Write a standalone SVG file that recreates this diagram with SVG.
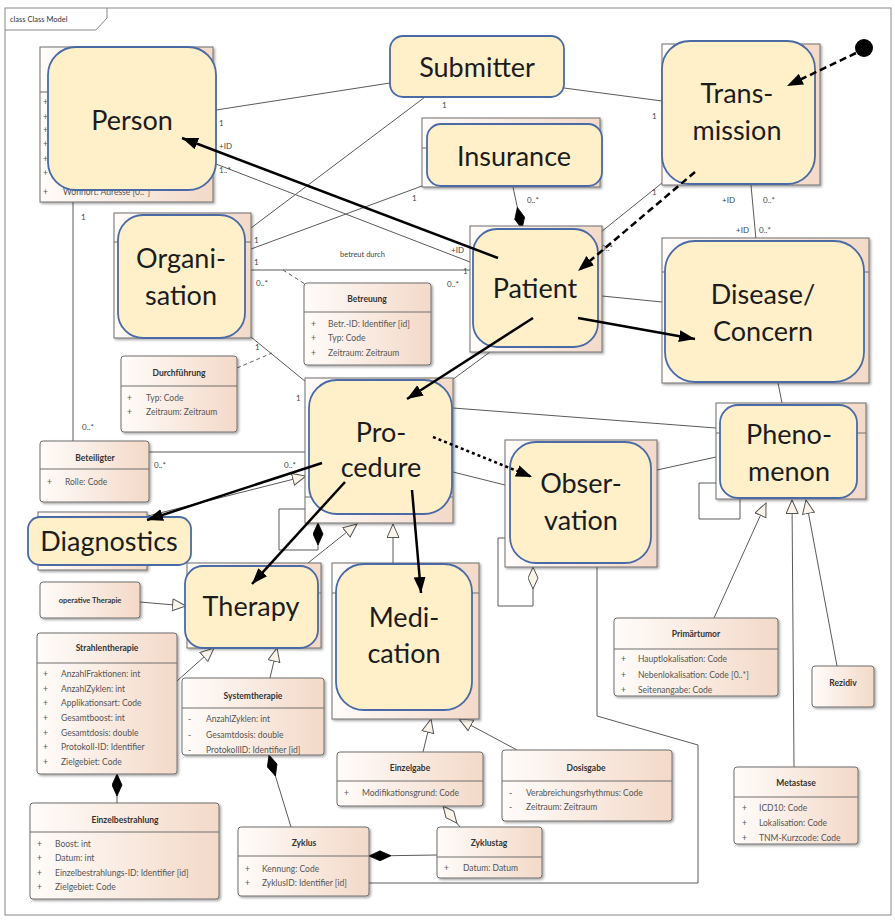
<svg xmlns="http://www.w3.org/2000/svg" width="895" height="921" viewBox="0 0 895 921">
<defs>
<linearGradient id="cg" x1="0" y1="0" x2="1" y2="0"><stop offset="0" stop-color="#FFFCFA"/><stop offset="1" stop-color="#F3D9C8"/></linearGradient>
<filter id="sh" x="-5%" y="-5%" width="115%" height="115%"><feDropShadow dx="1.5" dy="1.5" stdDeviation="1" flood-color="#000" flood-opacity="0.35"/></filter>
<marker id="ah" markerUnits="userSpaceOnUse" markerWidth="17" markerHeight="13" refX="16" refY="6" orient="auto"><path d="M0,0 L16,6 L0,12 z" fill="#000"/></marker>
<marker id="gen" markerUnits="userSpaceOnUse" markerWidth="16" markerHeight="14" refX="14" refY="6.5" orient="auto"><path d="M0.5,0.5 L14,6.5 L0.5,12.5 z" fill="#FBF4EA" stroke="#555" stroke-width="1"/></marker>
<marker id="comp" markerUnits="userSpaceOnUse" markerWidth="24" markerHeight="12" refX="23" refY="5.5" orient="auto"><path d="M1,5.5 L12,0.5 L23,5.5 L12,10.5 z" fill="#000" stroke="#000" stroke-width="0.8"/></marker>
<marker id="agg" markerUnits="userSpaceOnUse" markerWidth="24" markerHeight="12" refX="23" refY="5.5" orient="auto"><path d="M1,5.5 L12,0.5 L23,5.5 L12,10.5 z" fill="#FBF4EA" stroke="#555" stroke-width="1"/></marker>
<style>
.cls{fill:url(#cg);stroke:#6e6e6e;stroke-width:1;filter:url(#sh)}
.rb{fill:#FFF0CA;stroke:#4A6AA5;stroke-width:1.8}
.sep{stroke:#6e6e6e;stroke-width:1}
.big{font-family:Lato,"Open Sans",sans-serif;font-size:27px;fill:#1c1c1c;text-anchor:middle}
.ti{font-family:Lato,"Liberation Sans",sans-serif;font-size:8.5px;font-weight:bold;fill:#333;text-anchor:middle}
.at{font-family:Lato,"Liberation Sans",sans-serif;font-size:8.5px;fill:#555}
.lb{font-family:Lato,"Liberation Sans",sans-serif;font-size:8px;fill:#444}
.ln{stroke:#5a5a5a;stroke-width:1;fill:none}
.dl{stroke:#5a5a5a;stroke-width:1;fill:none;stroke-dasharray:4,3}
.ar{stroke:#000;stroke-width:2.5;fill:none;marker-end:url(#ah)}
.g{marker-end:url(#gen)}
.c{marker-end:url(#comp)}
.ag{marker-end:url(#agg)}
</style>
</defs>
<rect width="895" height="921" fill="#fff"/>
<g id="frame">
<rect x="5" y="8" width="886" height="907" fill="none" stroke="#888" stroke-width="1"/>
<path d="M5,30 H96 L107,18 V8" fill="none" stroke="#888"/>
<text x="10" y="22" class="lb" style="font-size:7.5px;fill:#333">class Class Model</text>
</g>

<g id="connectors">
<path class="ln" d="M216,110 L390,83"/>
<path class="ln" d="M564,88 L662,101"/>
<path class="ln" d="M425,97 L251,228"/>
<path class="ln" d="M422,186 L251,249"/>
<path class="ln" d="M251,270 L470,270"/>
<path class="dl" d="M283,270 L305,284"/>
<path class="ln" d="M251,337 L306,382"/>
<path class="dl" d="M237,368 L272,353"/>
<path class="ln" d="M73,202 V441"/>
<path class="ln" d="M149,452 H306"/>
<path class="ln g" d="M148,516 L306,476"/>
<path class="ln" d="M216,164 L470,262"/>
<path class="ln c" d="M513,187 L522,229"/>
<path class="ln" d="M662,183 L601,232"/>
<path class="ln" d="M751,185 L756,240"/>
<path class="ln" d="M602,296 L662,302"/>
<path class="ln" d="M490,352 L452,380"/>
<path class="ln" d="M453,408 L716,428"/>
<path class="ln" d="M453,472 L505,485"/>
<path class="ln" d="M657,470 L716,457"/>
<path class="ln" d="M778,383 L782,403"/>
<path class="ln" d="M716,483 H699 V519 H740 V499"/>
<path class="ln c" d="M305,509 H279 V550 H318 V523"/>
<path class="ln ag" d="M505,538 H498 V606 H533 V567"/>
<path class="ln" d="M597,567 V716 L698,745 V883 H369"/>
<path class="ln g" d="M308,563 L357,524"/>
<path class="ln g" d="M393,563 V524"/>
<path class="ln g" d="M140,602 L186,606"/>
<path class="ln g" d="M177,681 L214,648"/>
<path class="ln g" d="M270,678 L277,648"/>
<path class="ln g" d="M423,752 L431,719"/>
<path class="ln g" d="M517,750 L459,719"/>
<path class="ln c" d="M117,803 V774"/>
<path class="ln c" d="M291,827 L269,755"/>
<path class="ln c" d="M437,855 L369,856"/>
<path class="ln ag" d="M460,827 L443,806"/>
<path class="ln g" d="M714,618 L766,503"/>
<path class="ln g" d="M794,767 L792,500"/>
<path class="ln g" d="M837,666 L806,500"/>
<text class="lb" x="219" y="126">1</text>
<text class="lb" x="219" y="149">+ID</text>
<text class="lb" x="219" y="173">1..*</text>
<text class="lb" x="442" y="108">1</text>
<text class="lb" x="412" y="201">1</text>
<text class="lb" x="254" y="243">1</text>
<text class="lb" x="254" y="265">1</text>
<text class="lb" x="256" y="286">0..*</text>
<text class="lb" x="340" y="257" style="font-size:7.5px">betreut durch</text>
<text class="lb" x="463" y="274">1</text>
<text class="lb" x="447" y="287">0..*</text>
<text class="lb" x="451" y="253">+ID</text>
<text class="lb" x="527" y="203">0..*</text>
<text class="lb" x="652" y="195">1</text>
<text class="lb" x="652" y="119">1</text>
<text class="lb" x="601" y="251">0..*</text>
<text class="lb" x="722" y="203">+ID</text>
<text class="lb" x="763" y="203">0..*</text>
<text class="lb" x="736" y="233">+ID</text>
<text class="lb" x="759" y="233">0..*</text>
<text class="lb" x="255" y="350">1</text>
<text class="lb" x="296" y="401">1</text>
<text class="lb" x="81" y="220">1</text>
<text class="lb" x="82" y="430">0..*</text>
<text class="lb" x="154" y="468">0..*</text>
<text class="lb" x="284" y="468">0..*</text>
</g>

<g id="person">
<rect class="cls" x="40" y="47" width="173" height="155"/>
<line class="sep" x1="40" y1="92" x2="213" y2="92"/>
<g class="at"><text x="43" y="105">+</text><text x="43" y="120">+</text><text x="43" y="133">+</text><text x="43" y="147">+</text><text x="43" y="162">+</text><text x="43" y="176">+</text><text x="43" y="195">+</text><text x="63" y="195">Wohnort: Adresse [0..*]</text></g>
<rect class="rb" x="48" y="47" width="168" height="143" rx="28"/>
<text class="big" x="132" y="130">Person</text>
</g>

<g id="submitter">
<rect class="rb" x="390" y="36" width="174" height="61" rx="13"/>
<text class="big" x="477" y="77">Submitter</text>
</g>

<g id="insurance">
<rect class="cls" x="422" y="118" width="178" height="69"/>
<line class="sep" x1="422" y1="148" x2="600" y2="148"/>
<rect class="rb" x="427" y="124" width="175" height="62" rx="14"/>
<text class="big" x="514" y="166">Insurance</text>
</g>

<g id="transmission">
<rect class="cls" x="662" y="44" width="158" height="141"/>
<rect class="rb" x="662" y="41" width="153" height="143" rx="28"/>
<text class="big" x="737" y="103">Trans-</text>
<text class="big" x="737" y="140">mission</text>
</g>

<g id="organisation">
<rect class="cls" x="114" y="213" width="137" height="125"/>
<line class="sep" x1="114" y1="242" x2="251" y2="242"/>
<rect class="rb" x="118" y="215" width="127" height="123" rx="25"/>
<text class="big" x="181" y="268">Organi-</text>
<text class="big" x="181" y="305">sation</text>
</g>

<g id="patient">
<rect class="cls" x="470" y="226" width="132" height="126"/>
<rect class="rb" x="473" y="229" width="125" height="118" rx="24"/>
<text class="big" x="535" y="298">Patient</text>
</g>

<g id="disease">
<rect class="cls" x="662" y="238" width="207" height="145"/>
<line class="sep" x1="662" y1="272" x2="869" y2="272"/>
<rect class="rb" x="665" y="241" width="199" height="141" rx="30"/>
<text class="big" x="763" y="304">Disease/</text>
<text class="big" x="763" y="341">Concern</text>
</g>

<g id="phenomenon">
<rect class="cls" x="716" y="403" width="150" height="96"/>
<line class="sep" x1="716" y1="433" x2="866" y2="433"/>
<rect class="rb" x="720" y="405" width="137" height="93" rx="18"/>
<text class="big" x="789" y="444">Pheno-</text>
<text class="big" x="789" y="481">menon</text>
</g>

<g id="procedure">
<rect class="cls" x="305" y="378" width="148" height="145"/>
<line class="sep" x1="305" y1="497" x2="453" y2="497"/>
<rect class="rb" x="309" y="380" width="143" height="134" rx="28"/>
<text class="big" x="381" y="442">Pro-</text>
<text class="big" x="381" y="477">cedure</text>
</g>

<g id="observation">
<rect class="cls" x="505" y="440" width="152" height="127"/>
<rect class="rb" x="510" y="442" width="141" height="121" rx="26"/>
<text class="big" x="581" y="493">Obser-</text>
<text class="big" x="581" y="530">vation</text>
</g>

<g id="diagnostics">
<rect class="cls" x="38" y="512" width="109" height="58"/>
<rect class="rb" x="28" y="517" width="163" height="48" rx="12"/>
<text class="big" x="109" y="551">Diagnostics</text>
</g>

<g id="therapy">
<rect class="cls" x="187" y="563" width="134" height="85"/>
<line class="sep" x1="187" y1="593" x2="321" y2="593"/>
<rect class="rb" x="185" y="566" width="133" height="82" rx="18"/>
<text class="big" x="251" y="616">Therapy</text>
</g>

<g id="medication">
<rect class="cls" x="332" y="563" width="147" height="156"/>
<line class="sep" x1="332" y1="593" x2="479" y2="593"/>
<rect class="rb" x="336" y="564" width="136" height="146" rx="28"/>
<text class="big" x="404" y="627">Medi-</text>
<text class="big" x="404" y="663">cation</text>
</g>

<g id="betreuung">
<rect class="cls" x="304" y="283" width="127" height="82" rx="3"/>
<line class="sep" x1="304" y1="312" x2="431" y2="312"/>
<text class="ti" x="367" y="302">Betreuung</text>
<g class="at"><text x="311" y="327">+</text><text x="328" y="327">Betr.-ID: Identifier [id]</text><text x="311" y="341">+</text><text x="328" y="341">Typ: Code</text><text x="311" y="356">+</text><text x="328" y="356">Zeitraum: Zeitraum</text></g>
</g>

<g id="durchfuehrung">
<rect class="cls" x="121" y="356" width="116" height="76" rx="3"/>
<line class="sep" x1="121" y1="386" x2="237" y2="386"/>
<text class="ti" x="179" y="376">Durchführung</text>
<g class="at"><text x="127" y="401">+</text><text x="146" y="401">Typ: Code</text><text x="127" y="415">+</text><text x="146" y="415">Zeitraum: Zeitraum</text></g>
</g>

<g id="beteiligter">
<rect class="cls" x="40" y="441" width="109" height="61" rx="3"/>
<line class="sep" x1="40" y1="469" x2="149" y2="469"/>
<text class="ti" x="95" y="461">Beteiligter</text>
<g class="at"><text x="47" y="485">+</text><text x="65" y="485">Rolle: Code</text></g>
</g>

<g id="operative-therapie">
<rect class="cls" x="40" y="582" width="100" height="36" rx="3"/>
<text class="ti" x="90" y="603" style="font-size:7.5px">operative Therapie</text>
</g>

<g id="strahlentherapie">
<rect class="cls" x="37" y="633" width="140" height="141" rx="3"/>
<line class="sep" x1="37" y1="663" x2="177" y2="663"/>
<text class="ti" x="107" y="651">Strahlentherapie</text>
<g class="at">
<text x="43" y="677">+</text><text x="61" y="677">AnzahlFraktionen: int</text>
<text x="43" y="692">+</text><text x="61" y="692">AnzahlZyklen: int</text>
<text x="43" y="706">+</text><text x="61" y="706">Applikationsart: Code</text>
<text x="43" y="721">+</text><text x="61" y="721">Gesamtboost: int</text>
<text x="43" y="736">+</text><text x="61" y="736">Gesamtdosis: double</text>
<text x="43" y="750">+</text><text x="61" y="750">Protokoll-ID: Identifier</text>
<text x="43" y="765">+</text><text x="61" y="765">Zielgebiet: Code</text>
</g>
</g>

<g id="systemtherapie">
<rect class="cls" x="182" y="678" width="142" height="77" rx="3"/>
<line class="sep" x1="182" y1="708" x2="324" y2="708"/>
<text class="ti" x="253" y="699">Systemtherapie</text>
<g class="at">
<text x="188" y="722">-</text><text x="206" y="722">AnzahlZyklen: int</text>
<text x="188" y="738">-</text><text x="206" y="738">Gesamtdosis: double</text>
<text x="188" y="753">-</text><text x="206" y="753">ProtokollID: Identifier [id]</text>
</g>
</g>

<g id="einzelbestrahlung">
<rect class="cls" x="30" y="803" width="189" height="96" rx="3"/>
<line class="sep" x1="30" y1="832" x2="219" y2="832"/>
<text class="ti" x="125" y="823">Einzelbestrahlung</text>
<g class="at">
<text x="37" y="847">+</text><text x="55" y="847">Boost: int</text>
<text x="37" y="861">+</text><text x="55" y="861">Datum: int</text>
<text x="37" y="876">+</text><text x="55" y="876">Einzelbestrahlungs-ID: Identifier [id]</text>
<text x="37" y="890">+</text><text x="55" y="890">Zielgebiet: Code</text>
</g>
</g>

<g id="zyklus">
<rect class="cls" x="238" y="827" width="131" height="69" rx="3"/>
<line class="sep" x1="238" y1="856" x2="369" y2="856"/>
<text class="ti" x="304" y="846">Zyklus</text>
<g class="at">
<text x="245" y="872">+</text><text x="262" y="872">Kennung: Code</text>
<text x="245" y="886">+</text><text x="262" y="886">ZyklusID: Identifier [id]</text>
</g>
</g>

<g id="zyklustag">
<rect class="cls" x="437" y="827" width="105" height="51" rx="3"/>
<line class="sep" x1="437" y1="857" x2="542" y2="857"/>
<text class="ti" x="489" y="846">Zyklustag</text>
<g class="at"><text x="444" y="871">+</text><text x="463" y="871">Datum: Datum</text></g>
</g>

<g id="einzelgabe">
<rect class="cls" x="337" y="752" width="146" height="54" rx="3"/>
<line class="sep" x1="337" y1="781" x2="483" y2="781"/>
<text class="ti" x="410" y="771">Einzelgabe</text>
<g class="at"><text x="344" y="796">+</text><text x="362" y="796">Modifikationsgrund: Code</text></g>
</g>

<g id="dosisgabe">
<rect class="cls" x="502" y="750" width="170" height="71" rx="3"/>
<line class="sep" x1="502" y1="781" x2="672" y2="781"/>
<text class="ti" x="586" y="771">Dosisgabe</text>
<g class="at">
<text x="509" y="796">-</text><text x="526" y="796">Verabreichungsrhythmus: Code</text>
<text x="509" y="810">-</text><text x="526" y="810">Zeitraum: Zeitraum</text>
</g>
</g>

<g id="primaertumor">
<rect class="cls" x="614" y="618" width="164" height="78" rx="3"/>
<line class="sep" x1="614" y1="649" x2="778" y2="649"/>
<text class="ti" x="696" y="637">Primärtumor</text>
<g class="at">
<text x="621" y="662">+</text><text x="638" y="662">Hauptlokalisation: Code</text>
<text x="621" y="678">+</text><text x="638" y="678">Nebenlokalisation: Code [0..*]</text>
<text x="621" y="693">+</text><text x="638" y="693">Seitenangabe: Code</text>
</g>
</g>

<g id="rezidiv">
<rect class="cls" x="812" y="666" width="62" height="41" rx="3"/>
<text class="ti" x="843" y="686">Rezidiv</text>
</g>

<g id="metastase">
<rect class="cls" x="734" y="767" width="124" height="77" rx="3"/>
<line class="sep" x1="734" y1="797" x2="858" y2="797"/>
<text class="ti" x="796" y="786">Metastase</text>
<g class="at">
<text x="742" y="811">+</text><text x="759" y="811">ICD10: Code</text>
<text x="742" y="826">+</text><text x="759" y="826">Lokalisation: Code</text>
<text x="742" y="841">+</text><text x="759" y="841">TNM-Kurzcode: Code</text>
</g>
</g>

<g id="flow-arrows">
<path class="ar" d="M498,258 L182,138"/>
<path class="ar" d="M695,172 L578,271" stroke-dasharray="7,4"/>
<circle cx="864" cy="48" r="9" fill="#000"/>
<path class="ar" d="M856,53 L787,86" stroke-dasharray="7,4"/>
<path class="ar" d="M578,318 L695,339"/>
<path class="ar" d="M533,318 L407,399"/>
<path class="ar" d="M433,437 L532,477" stroke-dasharray="3,3"/>
<path class="ar" d="M322,463 L147,520"/>
<path class="ar" d="M345,482 L252,584"/>
<path class="ar" d="M412,490 L421,593"/>
</g>
</svg>
